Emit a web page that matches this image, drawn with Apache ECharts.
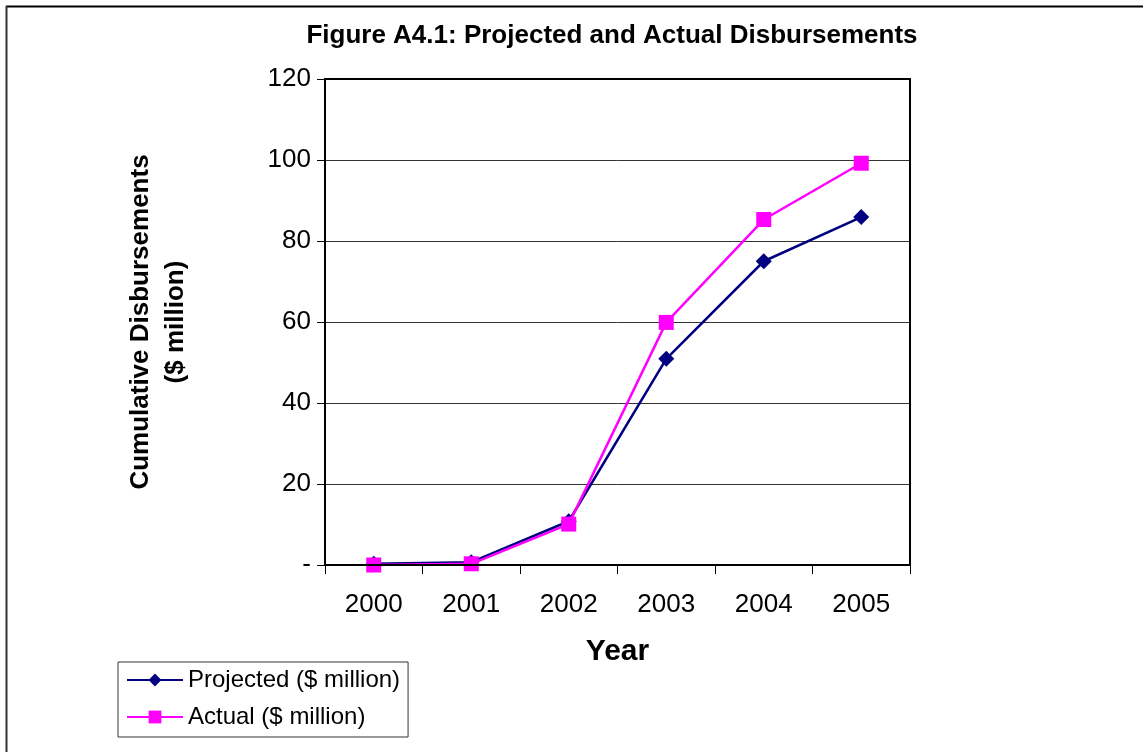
<!DOCTYPE html>
<html><head><meta charset="utf-8">
<script src="https://cdn.jsdelivr.net/npm/echarts@6/dist/echarts.min.js"></script>
<style>html,body{margin:0;padding:0;background:#fff}#c{width:1148px;height:752px}</style>
</head><body><div id="c"></div>
<script>
const categories = ['2000','2001','2002','2003','2004','2005'];
const projected = [0.3, 0.7, 10.8, 50.9, 75.0, 85.9];
const actual = [0.0, 0.3, 10.1, 59.9, 85.3, 99.2];
const yTicks = [0, 20, 40, 60, 80, 100, 120];

const chart = echarts.init(document.getElementById('c'));
const F = '"Liberation Sans", Arial, sans-serif';
chart.setOption({
  backgroundColor: '#fff',
  animation: false,
  title: {
    text: 'Figure A4.1: Projected and Actual Disbursements',
    left: 607, top: 18, textAlign: 'center',
    textStyle: { fontFamily: F, fontWeight: 'bold', fontSize: 26, color: '#000' }
  },
  graphic: [
    { type: 'line', shape: { x1: 6, y1: 6.5, x2: 1143, y2: 6.5 }, style: { stroke: '#000', lineWidth: 2 } },
    { type: 'line', shape: { x1: 6.5, y1: 6, x2: 6.5, y2: 752 }, style: { stroke: '#333', lineWidth: 2 } },
    { type: 'rect', shape: { x: 325, y: 79, width: 585, height: 486 }, style: { fill: 'none', stroke: '#000', lineWidth: 2 }, z: 10 }
  ],
  grid: { left: 325, top: 79, width: 585, height: 486 },
  legend: {
    left: 118, top: 662, orient: 'vertical',
    itemWidth: 56, itemHeight: 16, itemGap: 13,
    padding: [6, 8, 8, 8],
    borderColor: '#333', borderWidth: 1,
    textStyle: { fontFamily: F, fontSize: 24, color: '#000' },
    data: ['Projected ($ million)', 'Actual ($ million)']
  },
  xAxis: {
    type: 'category', data: categories, boundaryGap: true,
    name: 'Year', nameLocation: 'middle', nameGap: 72,
    nameTextStyle: { fontFamily: F, fontWeight: 'bold', fontSize: 30, color: '#000' },
    axisLine: { lineStyle: { color: '#000', width: 2 } },
    axisTick: { show: true, length: 9, lineStyle: { color: '#000', width: 1 } },
    axisLabel: { fontFamily: F, fontSize: 26, color: '#000', margin: 27 }
  },
  yAxis: {
    type: 'value', min: 0, max: 120, interval: 20,
    name: 'Cumulative Disbursements\n($ million)', nameLocation: 'middle', nameGap: 132,
    nameTextStyle: { fontFamily: F, fontWeight: 'bold', fontSize: 26, color: '#000', lineHeight: 35 },
    axisLine: { show: true, lineStyle: { color: '#000', width: 2 } },
    axisTick: { show: true, length: 8, lineStyle: { color: '#000' } },
    splitLine: { show: true, lineStyle: { color: '#333', width: 1 } },
    axisLabel: { fontFamily: F, fontSize: 26, color: '#000', margin: 14,
      formatter: v => (v === 0 ? '-' : String(v)) }
  },
  series: [
    { name: 'Projected ($ million)', type: 'line', data: projected,
      symbol: 'diamond', symbolSize: 16, lineStyle: { color: '#000080', width: 2.5 },
      itemStyle: { color: '#000080' }, z: 3 },
    { name: 'Actual ($ million)', type: 'line', data: actual,
      symbol: 'rect', symbolSize: 15, lineStyle: { color: '#FF00FF', width: 2.5 },
      itemStyle: { color: '#FF00FF' }, z: 4 }
  ]
});
</script></body></html>
